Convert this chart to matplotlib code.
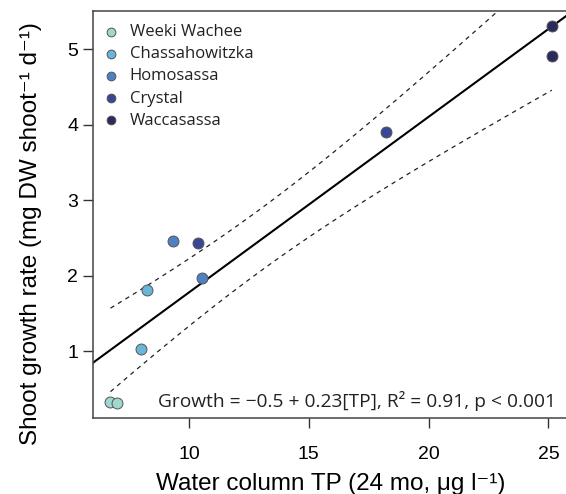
import numpy as np
import matplotlib
matplotlib.use("Agg")
import matplotlib.pyplot as plt

plt.rcParams['font.family'] = ['Liberation Sans', 'DejaVu Sans']

# ---- data ----
sites = ["Weeki Wachee", "Chassahowitzka", "Homosassa", "Crystal", "Waccasassa"]
site_colors = ["#9fd9cd", "#6cb5d8", "#4f80c2", "#3a4797", "#2b2a5c"]
tp_weeki = [6.73, 6.99]
gr_weeki = [0.335, 0.32]
tp_chass = [8.02, 8.24]
gr_chass = [1.03, 1.82]
tp_homo = [9.33, 10.56]
gr_homo = [2.46, 1.976]
tp_crys = [10.39, 18.22]
gr_crys = [2.43, 3.90]
tp_wacc = [25.14, 25.14]
gr_wacc = [5.31, 4.91]
site_tp = [tp_weeki, tp_chass, tp_homo, tp_crys, tp_wacc]
site_gr = [gr_weeki, gr_chass, gr_homo, gr_crys, gr_wacc]
xticks = [10, 15, 20, 25]
yticks = [1, 2, 3, 4, 5]
t_crit = 2.306  # 95%, df = 8
equation = "Growth = \u22120.5 + 0.23[TP], R\u00b2 = 0.91, p < 0.001"
xlabel = "Water column TP (24 mo, \u03bcg l\u207b\u00b9)"
ylabel = "Shoot growth rate (mg DW shoot\u207b\u00b9 d\u207b\u00b9)"

fig = plt.figure(figsize=(5.66, 4.94), dpi=100)
ax = fig.add_axes([93/566, 76/494, 1.005 - 93/566, (418-11)/494])

xlim = (6.0, 25.85)
ylim = (0.12, 5.505)

# regression with 95% confidence band
x_all = np.concatenate([np.array(v) for v in site_tp])
y_all = np.concatenate([np.array(v) for v in site_gr])
b1, b0 = np.polyfit(x_all, y_all, 1)
n = len(x_all)
resid = y_all - (b0 + b1 * x_all)
s = np.sqrt(np.sum(resid**2) / (n - 2))
xm = x_all.mean()
sxx = np.sum((x_all - xm)**2)

xl = np.linspace(xlim[0], xlim[1], 100)
ax.plot(xl, b0 + b1 * xl, color="black", lw=1.5, zorder=2)
xb = np.linspace(x_all.min(), x_all.max(), 200)
se = s * np.sqrt(1/n + (xb - xm)**2 / sxx)
yb = b0 + b1 * xb
ax.plot(xb, yb + t_crit * se, color="#222222", lw=0.9, ls=(0, (3.5, 3.5)), zorder=2)
ax.plot(xb, yb - t_crit * se, color="#222222", lw=0.9, ls=(0, (3.5, 3.5)), zorder=2)

for name, c, xs, ys in zip(sites, site_colors, site_tp, site_gr):
    ax.scatter(xs, ys, s=62, color=c, edgecolor="#555555", linewidth=0.7,
               label=name, zorder=3)

ax.set_xlim(*xlim)
ax.set_ylim(*ylim)
ax.set_xticks(xticks)
ax.set_yticks(yticks)
ax.tick_params(axis='both', direction='out', length=7.5, width=1.0,
               color="#333333", labelsize=14, pad=3.3)
ax.tick_params(axis='x', pad=12.5)
for sp in ["left", "bottom", "top"]:
    ax.spines[sp].set_color("#444444")
    ax.spines[sp].set_linewidth(1.1)
ax.spines["right"].set_visible(False)

ax.set_xlabel(xlabel, fontsize=17.5, labelpad=7)
ax.set_ylabel(ylabel, fontsize=17.5)
ax.yaxis.set_label_coords(-0.108, 0.452)

ax.text(25.3, 0.35, equation, ha="right", va="center", fontsize=13.8,
        family=["Open Sans", "DejaVu Sans"], color="#222222")

leg = ax.legend(loc="upper left", bbox_to_anchor=(0.0, 0.9926), frameon=False,
                prop={"family": ["Open Sans", "DejaVu Sans"], "size": 12},
                markerscale=0.8, handletextpad=0.6, labelspacing=0.37,
                borderaxespad=0.2, handlelength=1.0, scatterpoints=1)
for t in leg.get_texts():
    t.set_color("#222222")

fig.savefig("out.png", dpi=100)
